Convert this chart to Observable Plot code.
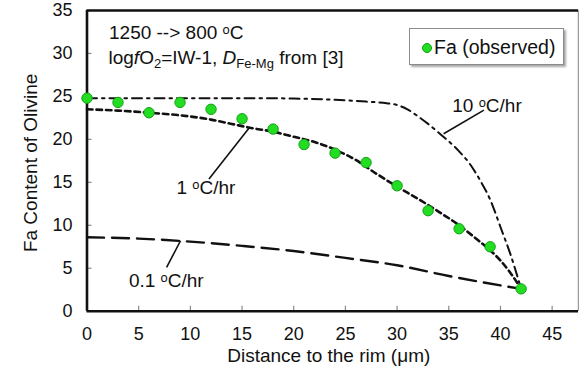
<!DOCTYPE html>
<html>
<head>
<meta charset="utf-8">
<script src="https://cdn.jsdelivr.net/npm/d3@7"></script>
<script src="https://cdn.jsdelivr.net/npm/@observablehq/plot@0.6"></script>
<style>
  html, body { margin: 0; padding: 0; background: white; }
  #wrap { position: relative; width: 579px; height: 381px; font-family: "Liberation Sans", Arial, sans-serif; color: #111; }
  #wrap svg { display: block; }
  .note { position: absolute; font-size: 19px; line-height: 19px; white-space: nowrap; }
  .note sub { font-size: 13px; vertical-align: -4px; line-height: 0; }
  #legend { position: absolute; left: 409px; top: 28px; width: 153px; height: 35px; border: 1px solid #8c8c8c; background: white; box-shadow: 2px 2px 2px rgba(0,0,0,0.35); }
  #legend .dot { position: absolute; left: 12px; top: 14px; width: 8px; height: 8px; border-radius: 50%; background: #22dd22; border: 0.5px solid #15a015; }
  #legend .lab { position: absolute; left: 24px; top: 8px; font-size: 19.5px; line-height: 20px; white-space: nowrap; }
</style>
</head>
<body>
<div id="wrap"></div>
<script>
// Observed Fa content (distance to rim in µm, Fa)
const obsX = [0, 3, 6, 9, 12, 15, 18, 21, 24, 27, 30, 33, 36, 39, 42];
const obsY = [24.8, 24.3, 23.1, 24.3, 23.5, 22.4, 21.2, 19.4, 18.4, 17.3, 14.6, 11.7, 9.6, 7.5, 2.6];

// Model curve: 1 °C/hr
const c1X = [0, 3, 6, 9, 12, 14, 16, 18, 20, 22, 24, 26, 28, 30, 32, 34, 36, 38, 39, 40, 41, 42];
const c1Y = [23.5, 23.35, 23.1, 22.8, 22.3, 21.8, 21.3, 20.9, 20.3, 19.7, 18.8, 17.6, 16.0, 14.5, 13.1, 11.6, 10.0, 8.1, 7.1, 5.9, 4.4, 2.6];

// Model curve: 10 °C/hr
const c10X = [0, 10, 16, 20, 24, 27, 29, 30, 31, 32, 33, 34, 36, 37, 38, 39, 40, 41, 42];
const c10Y = [24.8, 24.8, 24.8, 24.75, 24.6, 24.4, 24.2, 24.0, 23.5, 22.7, 21.8, 20.8, 18.6, 17.2, 15.3, 13.0, 9.8, 6.5, 2.6];

// Model curve: 0.1 °C/hr
const c01X = [0, 5, 10, 15, 20, 25, 30, 35, 40, 42];
const c01Y = [8.6, 8.45, 8.1, 7.6, 7.0, 6.2, 5.35, 4.1, 3.0, 2.6];

// Axis ticks and domains
const xTicks = [0, 5, 10, 15, 20, 25, 30, 35, 40, 45];
const yTicks = [0, 5, 10, 15, 20, 25, 30, 35];
const xDomain = [0, 47.55];
const yDomain = [0, 35];

// Curve labels and their leader lines
const labelText = ["10 \u1D52C/hr", "1 \u1D52C/hr", "0.1 \u1D52C/hr"];
const labelX = [38.7, 11.5, 7.67];
const labelY = [23.95, 14.4, 3.5];
const labelAnchor = ["start", "middle", "middle"];
const leadX1 = [34.5, 11.8, 7.7];
const leadY1 = [20.65, 15.4, 5.1];
const leadX2 = [38.4, 15.7, 9.05];
const leadY2 = [23.4, 21.35, 8.2];

const xTitle = "Distance to the rim (\u03BCm)";
const yTitle = "Fa Content of Olivine";

const zip = (xs, ys) => xs.map((x, i) => ({x, y: ys[i]}));
const obs = zip(obsX, obsY);
const c1 = zip(c1X, c1Y);
const c10 = zip(c10X, c10Y);
const c01 = zip(c01X, c01Y);
const labels = labelText.map((t, i) => ({t, x: labelX[i], y: labelY[i], a: labelAnchor[i]}));
const leads = leadX1.map((x1, i) => ({x1, y1: leadY1[i], x2: leadX2[i], y2: leadY2[i]}));

const font = "Liberation Sans, Arial, sans-serif";

const chart = Plot.plot({
  width: 579,
  height: 381,
  marginLeft: 86.5,
  marginRight: 1,
  marginTop: 10,
  marginBottom: 70.3,
  style: {fontFamily: font, fontSize: "18px", background: "white", color: "#111", overflow: "visible"},
  x: {domain: xDomain},
  y: {domain: yDomain},
  marks: [
    // inward ticks
    Plot.axisX(xTicks, {tickSize: -5, text: null, label: null, stroke: "#8a8a8a", strokeWidth: 1.2}),
    Plot.axisY(yTicks, {tickSize: -5, text: null, label: null, stroke: "#8a8a8a", strokeWidth: 1.2}),
    // tick labels
    Plot.axisX(xTicks, {tickSize: 0, tickPadding: 16, label: null, fontSize: 18}),
    Plot.axisY(yTicks, {tickSize: 0, tickPadding: 14.5, label: null, fontSize: 18}),
    // frame
    Plot.ruleX([xDomain[1]], {stroke: "#9a9a9a", strokeWidth: 1.5}),
    Plot.ruleY([yDomain[1]], {stroke: "#111", strokeWidth: 2.6}),
    Plot.ruleX([xDomain[0]], {stroke: "#111", strokeWidth: 2.6}),
    Plot.ruleY([yDomain[0]], {stroke: "#111", strokeWidth: 2.6}),
    // model curves
    Plot.line(c01, {x: "x", y: "y", stroke: "#111", strokeWidth: 2.4, strokeDasharray: "17,8", curve: "monotone-x"}),
    Plot.line(c10, {x: "x", y: "y", stroke: "#111", strokeWidth: 2, strokeDasharray: "10,5,2.5,5", curve: "monotone-x"}),
    Plot.line(c1, {x: "x", y: "y", stroke: "#111", strokeWidth: 2.6, strokeDasharray: "5.5,4", curve: "monotone-x"}),
    // leader lines
    Plot.link(leads, {x1: "x1", y1: "y1", x2: "x2", y2: "y2", stroke: "#111", strokeWidth: 1.6}),
    // observed
    Plot.dot(obs, {x: "x", y: "y", r: 5.2, fill: "#22dd22", stroke: "#15a015", strokeWidth: 1}),
    // curve labels
    Plot.text(labels, {x: "x", y: "y", text: "t", textAnchor: d => d.a, fontSize: 19, fill: "#111"}),
    // axis titles
    Plot.text([yTitle], {frameAnchor: "left", textAnchor: "middle", dx: -56.5, dy: 2, rotate: -90, fontSize: 19, fill: "#111"}),
    Plot.text([xTitle], {frameAnchor: "bottom", textAnchor: "middle", dy: 50.5, dx: -4, fontSize: 19, fill: "#111"})
  ]
});

const wrap = document.getElementById("wrap");
wrap.appendChild(chart);

const n1 = document.createElement("div");
n1.className = "note";
n1.style.left = "109px"; n1.style.top = "22.5px";
n1.textContent = "1250 --> 800 \u1D52C";
wrap.appendChild(n1);

const n2 = document.createElement("div");
n2.className = "note";
n2.style.left = "108.5px"; n2.style.top = "47.5px";
n2.innerHTML = "log<i>f</i>O<sub>2</sub>=IW-1, <i>D</i><sub>Fe-Mg</sub> from [3]";
wrap.appendChild(n2);

const lg = document.createElement("div");
lg.id = "legend";
lg.innerHTML = '<div class="dot"></div><div class="lab">Fa (observed)</div>';
wrap.appendChild(lg);
</script>
</body>
</html>
